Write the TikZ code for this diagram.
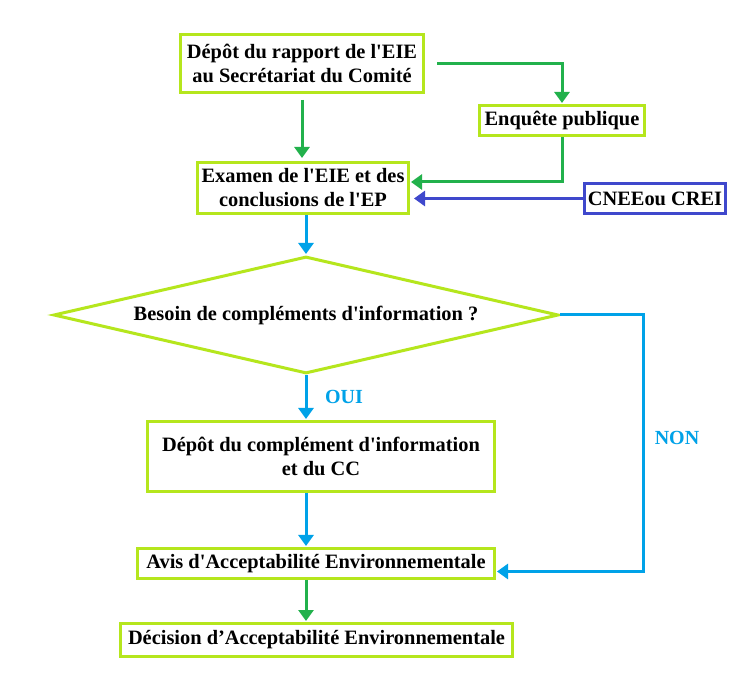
\documentclass[tikz,border=0pt]{standalone}
\usepackage{fontspec}
\setmainfont{Liberation Serif}
\usetikzlibrary{arrows.meta,shapes.geometric}
\definecolor{boxline}{RGB}{181,230,29}
\definecolor{cgreen}{RGB}{34,177,76}
\definecolor{cblue}{RGB}{0,162,232}
\definecolor{cindigo}{RGB}{63,72,204}
\newcommand{\qs}{\textquotesingle}
\tikzset{
  box/.style={draw=boxline,line width=3pt,fill=white,align=center,inner sep=0pt,
    font=\bfseries\fontsize{20.4}{24}\selectfont},
  greenarr/.style={draw=cgreen,line width=3pt,-{Triangle[width=15pt,length=11pt]}},
  bluearr/.style={draw=cblue,line width=3pt,-{Triangle[width=15pt,length=11pt]}},
  indigoarr/.style={draw=cindigo,line width=3pt,-{Triangle[width=15pt,length=11pt]}},
  lbl/.style={text=cblue,font=\bfseries\fontsize{20}{22}\selectfont}
}
\begin{document}
\begin{tikzpicture}[x=1pt,y=-1pt]
\path[use as bounding box,fill=white] (0,0) rectangle (745,684);
%boxes
\node[box,minimum width=243,minimum height=58] (dep) at (302,63.5) {D\'ep\^ot du rapport de l\qs EIE\\au Secr\'etariat du Comit\'e};
\node[box,minimum width=211,minimum height=51] (exam) at (303,188) {Examen de l\qs EIE et des\\conclusions de l\qs EP};
\node[box,minimum width=165,minimum height=30] (enq) at (562,120.5) {Enqu\^ete publique};
\node[box,draw=cindigo,minimum width=141,minimum height=30] (cnee) at (655,198.5) {CNEEou CREI};
\node[box,diamond,minimum width=505,minimum height=117,aspect=4.2] (diam) at (306,315) {Besoin de compl\'ements d\qs information ?};
\node[box,minimum width=347,minimum height=70] (cdep) at (321,456.5) {D\'ep\^ot du compl\'ement d\qs information\\et du CC};
\node[box,minimum width=357,minimum height=30] (avis) at (316,563.5) {Avis d\qs Acceptabilit\'e Environnementale};
\node[box,minimum width=392,minimum height=33] (dec) at (316.5,640) {D\'ecision d’Acceptabilit\'e Environnementale};
%labels
\node[lbl] (oui) at (344,397) {OUI};
\node[lbl] (non) at (677,438) {NON};
%connectors
\draw[greenarr,shorten <=6pt,shorten >=3pt] (dep.south) -- (dep.south |- exam.north);
\draw[greenarr,shorten <=12pt,shorten >=1pt] (dep.east) -| (enq.north);
\draw[greenarr,shorten >=1pt] (enq.south) |- ([yshift=6pt]exam.east);
\draw[indigoarr,shorten >=4pt] (cnee.west) -- (cnee.west -| exam.east);
\draw[bluearr,shorten >=1pt] (exam.south -| diam.north) -- (diam.north);
\draw[bluearr,shorten >=1pt] (diam.south) -- (diam.south |- cdep.north);
\draw[bluearr,shorten >=1pt] (cdep.south -| diam.south) -- (diam.south |- avis.north);
\draw[greenarr,shorten >=1pt] (avis.south -| diam.south) -- (diam.south |- dec.north);
\draw[bluearr,shorten >=1pt] (diam.east) -- ++(83,0) |- ([yshift=-8pt]avis.east);
\end{tikzpicture}
\end{document}
